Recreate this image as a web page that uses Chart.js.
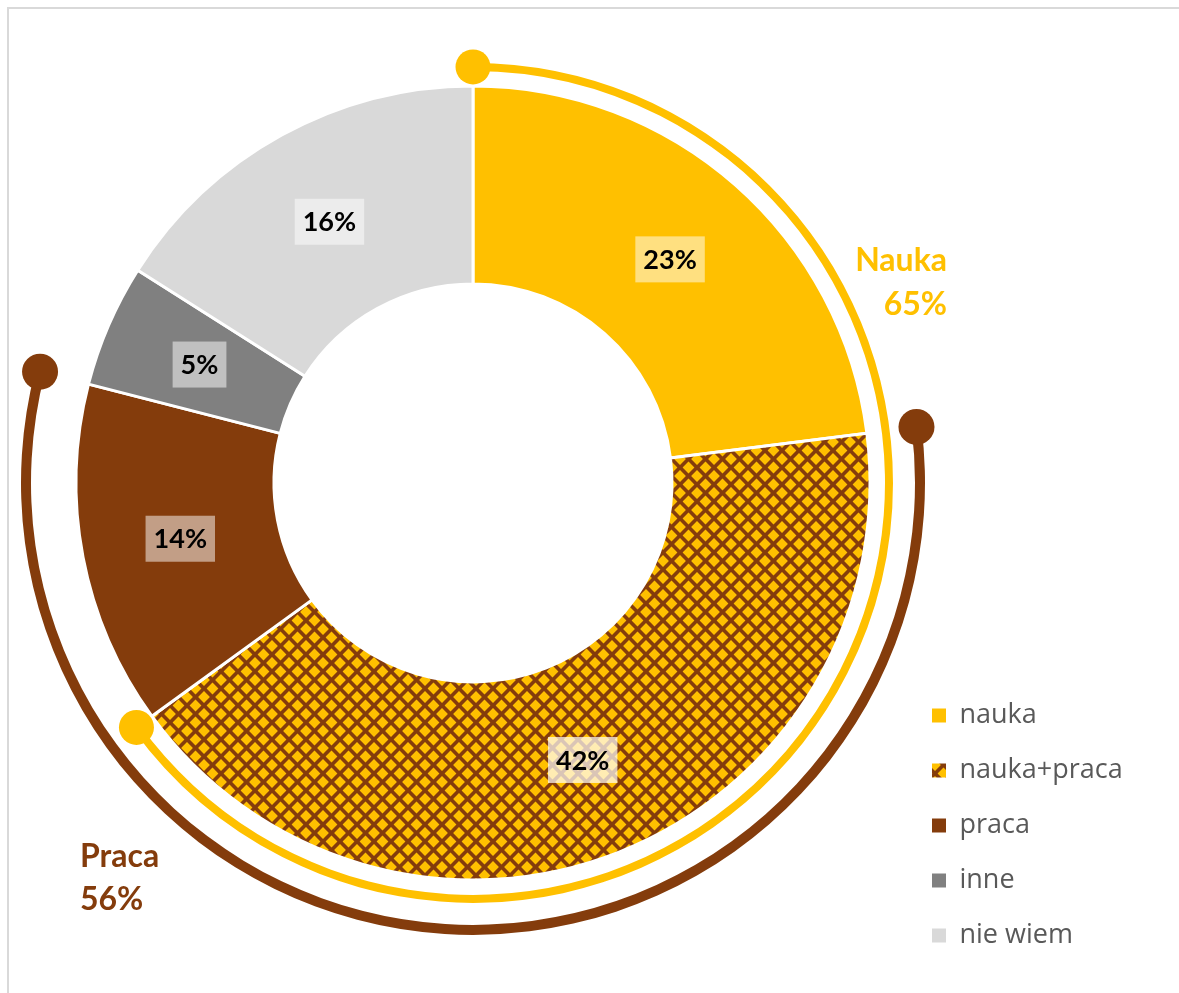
<!DOCTYPE html>
<html>
<head>
<meta charset="utf-8">
<script src="https://cdn.jsdelivr.net/npm/chart.js@4.4.1/dist/chart.umd.min.js"></script>
<style>
  html, body { margin: 0; padding: 0; background: #fff; overflow: hidden; }
  #wrap { position: relative; width: 1179px; height: 993px; overflow: hidden; }
  #frame { position: absolute; left: 7px; top: 7px; width: 1300px; height: 1100px;
           border-left: 2px solid #d9d9d9; border-top: 2px solid #d9d9d9; }
  #c { position: absolute; left: 0; top: 0; }
</style>
</head>
<body>
<div id="wrap"><div id="frame"></div><canvas id="c" width="1179" height="993"></canvas></div>
<script>
// ---- data ----
const categories = ['nauka', 'nauka+praca', 'praca', 'inne', 'nie wiem'];
const shares = [23, 42, 14, 5, 16];
const groupNames = ['Nauka', 'Praca'];
const groupTotals = [65, 56];

// ---- style ----
const YELLOW = '#FFC000', BROWN = '#843C0C', GRAY = '#808080', LIGHT = '#D9D9D9';
const CLEAR = 'rgba(0,0,0,0)';

function makePattern() {
  const s = 17;
  const c = document.createElement('canvas');
  c.width = s; c.height = s;
  const g = c.getContext('2d');
  g.fillStyle = BROWN; g.fillRect(0, 0, s, s);
  g.fillStyle = YELLOW;
  const d = 5.9;
  const diamond = (x, y) => {
    g.beginPath(); g.moveTo(x, y - d); g.lineTo(x + d, y); g.lineTo(x, y + d); g.lineTo(x - d, y);
    g.closePath(); g.fill();
  };
  diamond(s / 2, s / 2); diamond(0, 0); diamond(s, 0); diamond(0, s); diamond(s, s);
  return g.createPattern(c, 'repeat');
}
const sliceColors = [YELLOW, makePattern(), BROWN, GRAY, LIGHT];
const labelBoxAlpha = [0.5, 0.7, 0.5, 0.5, 0.5];

const MAIN = 4, PRACA_ARC = 0, NAUKA_ARC = 2;

Chart.defaults.font.family = 'Lato, "Open Sans", sans-serif';

const legendFix = {
  id: 'legendFix',
  beforeUpdate(chart) {
    const lg = chart.legend;
    if (lg && !lg._patched) {
      const orig = lg.fit;
      lg.fit = function () { orig.call(this); this.width = 275; };
      lg._patched = true;
    }
  }
};

const decor = {
  id: 'decor',
  afterDatasetsDraw(chart) {
    const ctx = chart.ctx;
    ctx.save();
    // end dots of the group arcs
    [[PRACA_ARC, 1, BROWN, 18], [NAUKA_ARC, 0, YELLOW, 17.5]].forEach(([ds, i, col, r]) => {
      const arc = chart.getDatasetMeta(ds).data[i];
      const p = arc.getProps(['x', 'y', 'startAngle', 'endAngle', 'innerRadius', 'outerRadius'], true);
      const rm = (p.innerRadius + p.outerRadius) / 2;
      [p.startAngle, p.endAngle].forEach(a => {
        ctx.beginPath();
        ctx.arc(p.x + rm * Math.cos(a), p.y + rm * Math.sin(a), r, 0, Math.PI * 2);
        ctx.fillStyle = col;
        ctx.fill();
      });
    });
    // slice labels
    const meta = chart.getDatasetMeta(MAIN);
    ctx.font = 'bold 27px Lato';
    ctx.textAlign = 'center';
    ctx.textBaseline = 'middle';
    meta.data.forEach((arc, i) => {
      const c = arc.getCenterPoint(true);
      const txt = shares[i] + '%';
      const w = ctx.measureText(txt).width + 16, h = 46;
      ctx.fillStyle = 'rgba(255,255,255,' + labelBoxAlpha[i] + ')';
      ctx.fillRect(c.x - w / 2, c.y - h / 2, w, h);
      ctx.fillStyle = '#000';
      ctx.fillText(txt, c.x, c.y + 1);
    });
    // group labels
    const m0 = meta.data[0];
    const cx = m0.x, cy = m0.y;
    ctx.font = 'bold 32px Lato';
    ctx.fillStyle = YELLOW;
    ctx.textAlign = 'right';
    ctx.fillText(groupNames[0], cx + 474, cy - 222);
    ctx.fillText(groupTotals[0] + '%', cx + 474, cy - 178);
    ctx.fillStyle = BROWN;
    ctx.textAlign = 'left';
    ctx.fillText(groupNames[1], cx - 393, cy + 374);
    ctx.fillText(groupTotals[1] + '%', cx - 393, cy + 417);
    ctx.restore();
  }
};

new Chart(document.getElementById('c'), {
  type: 'doughnut',
  data: {
    labels: categories,
    datasets: [
      { data: [shares[0], groupTotals[1], 100 - shares[0] - groupTotals[1]],
        backgroundColor: [CLEAR, BROWN, CLEAR], borderWidth: 0, weight: 10, clip: false },
      { data: [], weight: 22, clip: false },
      { data: [groupTotals[0], 100 - groupTotals[0]],
        backgroundColor: [YELLOW, CLEAR], borderWidth: 0, weight: 8, clip: false },
      { data: [], weight: 15, clip: false },
      { data: shares, backgroundColor: sliceColors, borderColor: '#ffffff', borderWidth: 3,
        weight: 198, clip: false }
    ]
  },
  options: {
    responsive: false,
    animation: false,
    events: [],
    radius: 452,
    cutout: (199 / 452 * 100) + '%',
    layout: { padding: { top: 0, bottom: 16, left: 42, right: 0 } },
    plugins: {
      tooltip: { enabled: false },
      title: {
        display: true, position: 'bottom', fullSize: false, text: ' ',
        font: { size: 1 }, padding: { top: 5, bottom: 5 }
      },
      legend: {
        position: 'right',
        align: 'end',
        fullSize: true,
        labels: {
          boxWidth: 14,
          boxHeight: 14,
          padding: 28,
          color: '#595959',
          font: { family: '"Open Sans", Lato, sans-serif', size: 27 },
          generateLabels(chart) {
            const meta = chart.getDatasetMeta(MAIN);
            return chart.data.labels.map((label, i) => {
              const st = meta.controller.getStyle(i);
              return { text: label, fillStyle: st.backgroundColor, strokeStyle: st.backgroundColor,
                       lineWidth: 0, fontColor: '#595959', hidden: false, index: i };
            });
          }
        }
      }
    }
  },
  plugins: [legendFix, decor]
});
</script>
</body>
</html>
